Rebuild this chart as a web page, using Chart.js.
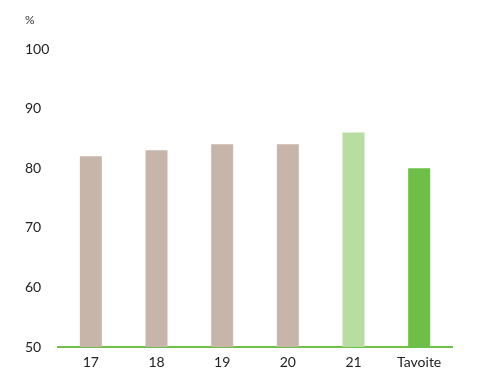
<!DOCTYPE html>
<html><head><meta charset="utf-8">
<script src="https://cdn.jsdelivr.net/npm/chart.js@4/dist/chart.umd.min.js"></script>
<style>html,body{margin:0;padding:0;background:#fff}#w{width:485px;height:369px}</style>
</head><body><div id="w"><canvas id="c"></canvas></div>
<script>
const categories = ['17','18','19','20','21','Tavoite'];
const values = [82, 83, 84, 84, 86, 80];
const barColors = ['#C8B5A9','#C8B5A9','#C8B5A9','#C8B5A9','#B8DDA1','#6DBF47'];
const yTicks = [50, 60, 70, 80, 90, 100];
const unitLabel = '%';

const FONT = 'Lato, "DejaVu Sans", sans-serif';
const unitPlugin = {
  id: 'unit',
  afterDraw(chart) {
    const ctx = chart.ctx;
    ctx.save();
    ctx.font = '12px ' + FONT;
    ctx.fillStyle = '#333';
    ctx.textBaseline = 'middle';
    ctx.textAlign = 'left';
    ctx.fillText(unitLabel, 25, 20);
    ctx.restore();
  }
};

new Chart(document.getElementById('c'), {
  type: 'bar',
  data: { labels: categories, datasets: [{ data: values, backgroundColor: barColors, categoryPercentage: 1, barPercentage: 0.335 }] },
  options: {
    responsive: true, maintainAspectRatio: false, animation: false,
    layout: { padding: { left: 25, right: 33, top: 49, bottom: 0 } },
    plugins: { legend: { display: false }, tooltip: { enabled: false } },
    scales: {
      x: {
        afterFit(s) { s.height = 22; },
        grid: { display: false, drawTicks: false },
        border: { display: true, color: '#6DBF47', width: 2 },
        ticks: { color: '#222', font: { family: FONT, size: 14 }, padding: 7 }
      },
      y: {
        min: 50, max: 100,
        afterBuildTicks(s) { s.ticks = yTicks.map(v => ({ value: v })); },
        afterFit(s) { s.width = 33; },
        grid: { display: false, drawTicks: false },
        border: { display: false },
        ticks: { color: '#222', font: { family: FONT, size: 14 }, crossAlign: 'far', padding: 0 }
      }
    }
  },
  plugins: [unitPlugin]
});
</script></body></html>
